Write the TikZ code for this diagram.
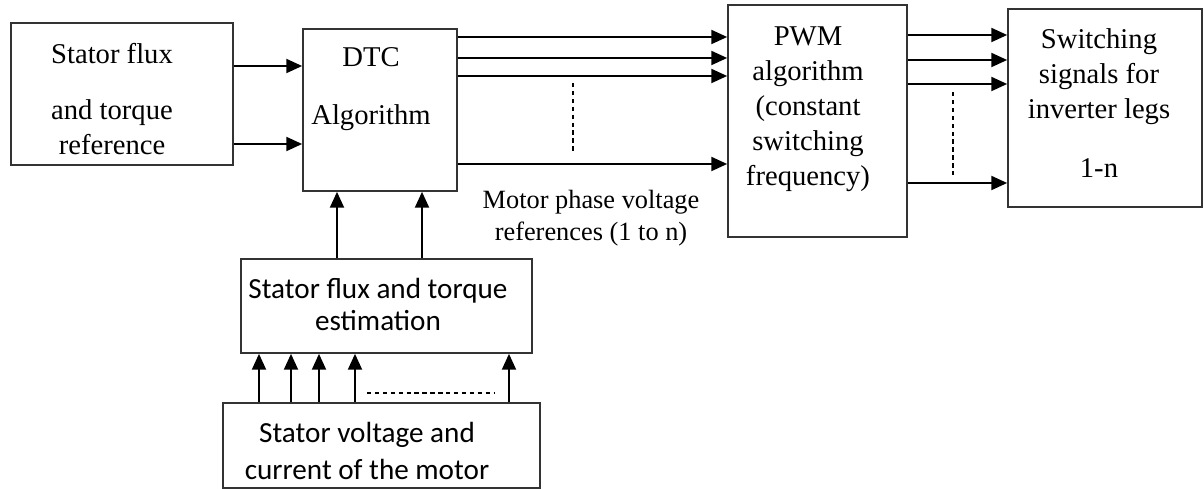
\documentclass[tikz,border=0pt]{standalone}
\usepackage{fontspec}
\setmainfont{Liberation Serif}
\newfontfamily\calibfont{Carlito}
\usetikzlibrary{arrows.meta}

\begin{document}
\begin{tikzpicture}[x=0.02cm,y=-0.02cm,>={Triangle[length=9pt,width=8pt]},
  box/.style={draw=black!80,line width=1pt,inner sep=0pt},
  txt/.style={align=center,font=\fontsize{16.3}{20}\selectfont},
  stxt/.style={align=center,font=\calibfont\fontsize{16.6}{18.2}\selectfont},
  arr/.style={->,line width=1pt},
  dots/.style={dash pattern=on 2.5pt off 2pt,line width=.7pt}]
\useasboundingbox (0,0) rectangle (1204,489);
% blocks
\node[box,minimum width=4.44cm,minimum height=2.84cm] (ref) at (122,94) {};
\node[box,minimum width=3.08cm,minimum height=3.24cm] (dtc) at (380,110) {};
\node[box,minimum width=3.58cm,minimum height=4.64cm] (pwm) at (817.5,121) {};
\node[box,minimum width=3.88cm,minimum height=3.96cm] (sw) at (1105,108) {};
\node[box,minimum width=5.82cm,minimum height=1.88cm] (est) at (386.5,306) {};
\node[box,minimum width=6.34cm,minimum height=1.7cm] (mot) at (381.5,445.5) {};
% texts
\node[txt] (refT) at (112,99) {Stator flux\\[12pt]and torque\\reference};
\node[txt] (dtcT) at (371,89) {DTC\\[13pt]Algorithm};
\node[txt] (pwmT) at (808,109) {PWM\\algorithm\\(constant\\switching\\frequency)};
\node[txt] (swT) at (1099,103) {Switching\\signals for\\inverter legs\\[13.4pt]1-n};
\node[stxt] (estT) at (378,304) {Stator flux and torque\\estimation};
\node[stxt] (motT) at (367,451) {Stator voltage and\\[3pt]current of the motor};
\node[txt,font=\fontsize{15}{18.2}\selectfont] (vref) at (591,218) {Motor phase voltage\\references (1 to n)};
% connectors
\foreach \y in {66,144} \draw[arr] (ref.east|-0,\y) -- (dtc.west|-0,\y);
\foreach \y in {37,58,76,164} \draw[arr] (dtc.east|-0,\y) -- (pwm.west|-0,\y);
\foreach \y in {35,60,84,183} \draw[arr] (pwm.east|-0,\y) -- (sw.west|-0,\y);
\foreach \x in {337,422} \draw[arr] (\x,0|-est.north) -- (\x,0|-dtc.south);
\foreach \x in {259,291,319,355,509} \draw[arr] (\x,0|-mot.north) -- (\x,0|-est.south);
% dashed gaps
\draw[dots] (573,83) -- (573,153);
\draw[dots] (953,92) -- (953,178);
\draw[dots] (367,393) -- (495,393);
\end{tikzpicture}
\end{document}
